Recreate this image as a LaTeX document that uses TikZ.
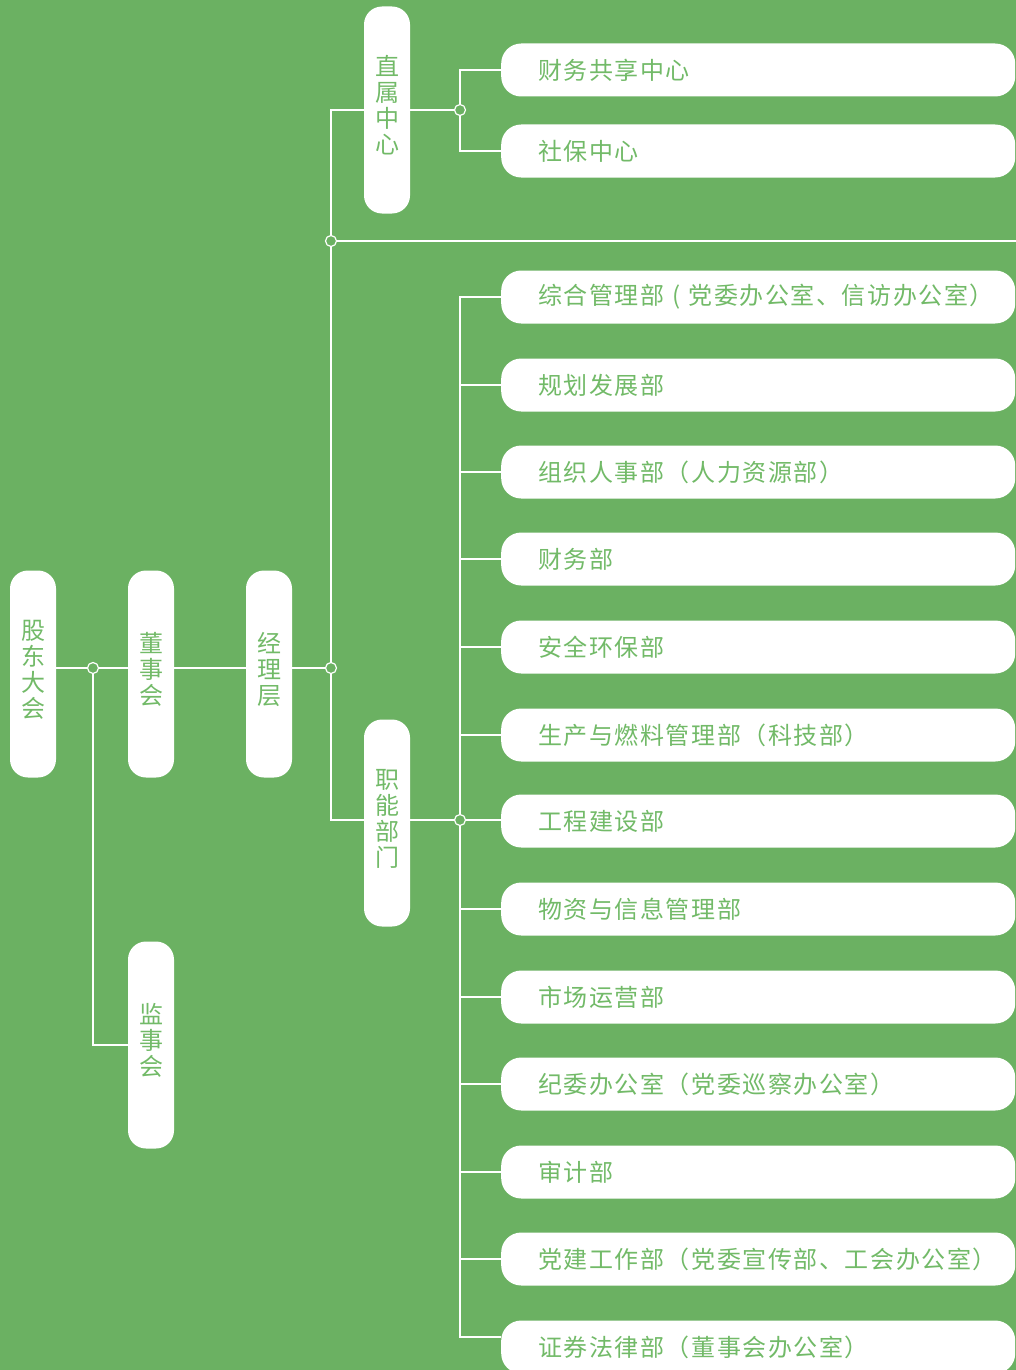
\documentclass[tikz,border=0pt]{standalone}
\usepackage{fontspec}
\newfontfamily\cjk[LetterSpace=6.5]{Noto Sans CJK SC}
\usetikzlibrary{positioning}
\definecolor{bg}{RGB}{107,177,98}
\definecolor{txt}{RGB}{114,186,104}

\begin{document}
\begin{tikzpicture}[x=1pt, y=-1pt,
    stage/.style={fill=white, rounded corners=18pt, minimum width=46pt, minimum height=207pt,
      inner sep=0pt, align=center, text=txt, text depth=11pt,
      font=\cjk\fontsize{24}{26}\selectfont},
    dept/.style={fill=white, rounded corners=20pt, anchor=west, minimum height=53pt,
      text width=440pt, inner xsep=37pt, inner ysep=0pt, align=left, text=txt,
      font=\cjk\fontsize{24}{26}\selectfont},
    dot/.style={circle, draw=white, fill=bg, line width=1.2pt, inner sep=0pt, minimum size=11pt},
    conn/.style={draw=white, line width=1.2pt}]
  \useasboundingbox (0,0) rectangle (1016,1370);
  \fill[bg] (0,0) rectangle (1016,1370);

  % Stufen links
  \node[stage] (gudong) at (33,674) {股\\东\\大\\会};
  \node[stage] (dongshi) at (151,674) {董\\事\\会};
  \node[stage] (jingli) at (269,674) {经\\理\\层};
  \node[stage] (jianshi) at (151,1045) {监\\事\\会};
  \node[stage] (zhishu) at (387,110) {直\\属\\中\\心};
  \node[stage] (zhineng) at (387,823) {职\\能\\部\\门};

  % Knoten
  \node[dot] (jA) at (93,668) {};
  \node[dot] (jB) at (331,668) {};
  \node[dot] (jC) at (331,241) {};
  \node[dot] (jD) at (460,110) {};
  \node[dot] (jE) at (460,820) {};
  \coordinate (rEnd) at (1016,241);

  % Direkt unterstellte Zentren
  \node[dept] (zx1) at (501,70) {财务共享中心};
  \node[dept] (zx2) at (501,151) {社保中心};

  % Fachabteilungen
  \node[dept] (bm1) at (501,297) {\mbox{综合管理部 ( 党委办公室、信访办公室）}};
  \node[dept] (bm2) at (501,385) {规划发展部};
  \node[dept] (bm3) at (501,472) {组织人事部（人力资源部）};
  \node[dept] (bm4) at (501,559) {财务部};
  \node[dept] (bm5) at (501,647) {安全环保部};
  \node[dept] (bm6) at (501,735) {生产与燃料管理部（科技部）};
  \node[dept] (bm7) at (501,821) {工程建设部};
  \node[dept] (bm8) at (501,909) {物资与信息管理部};
  \node[dept] (bm9) at (501,997) {市场运营部};
  \node[dept] (bm10) at (501,1084) {纪委办公室（党委巡察办公室）};
  \node[dept] (bm11) at (501,1172) {审计部};
  \node[dept] (bm12) at (501,1259) {党建工作部（党委宣传部、工会办公室）};
  \node[dept] (bm13) at (501,1347) {证券法律部（董事会办公室）};

  % Linien
  \draw[conn] (gudong.east |- jA) -- (jA) -- (dongshi.west |- jA);
  \draw[conn] (dongshi.east |- jA) -- (jingli.west |- jA);
  \draw[conn] (jingli.east |- jA) -- (jB);
  \draw[conn] (jA) |- (jianshi.west);
  \draw[conn] (zhishu.west) -| (jC);
  \draw[conn] (jC) -- (jB);
  \draw[conn] (jB) |- (zhineng.west |- jE);
  \draw[conn] (jC) -- (rEnd);
  \draw[conn] (zhishu.east) -- (jD);
  \draw[conn] (jD) |- (zx1.west);
  \draw[conn] (jD) |- (zx2.west);
  \draw[conn] (zhineng.east |- jE) -- (jE);
  \draw[conn] (jE) |- (bm1.west);
  \draw[conn] (jE) |- (bm2.west);
  \draw[conn] (jE) |- (bm3.west);
  \draw[conn] (jE) |- (bm4.west);
  \draw[conn] (jE) |- (bm5.west);
  \draw[conn] (jE) |- (bm6.west);
  \draw[conn] (jE) -- (bm7.west |- jE);
  \draw[conn] (jE) |- (bm8.west);
  \draw[conn] (jE) |- (bm9.west);
  \draw[conn] (jE) |- (bm10.west);
  \draw[conn] (jE) |- (bm11.west);
  \draw[conn] (jE) |- (bm12.west);
  \draw[conn] (jE) |- ([yshift=10pt]bm13.west);
\end{tikzpicture}
\end{document}
